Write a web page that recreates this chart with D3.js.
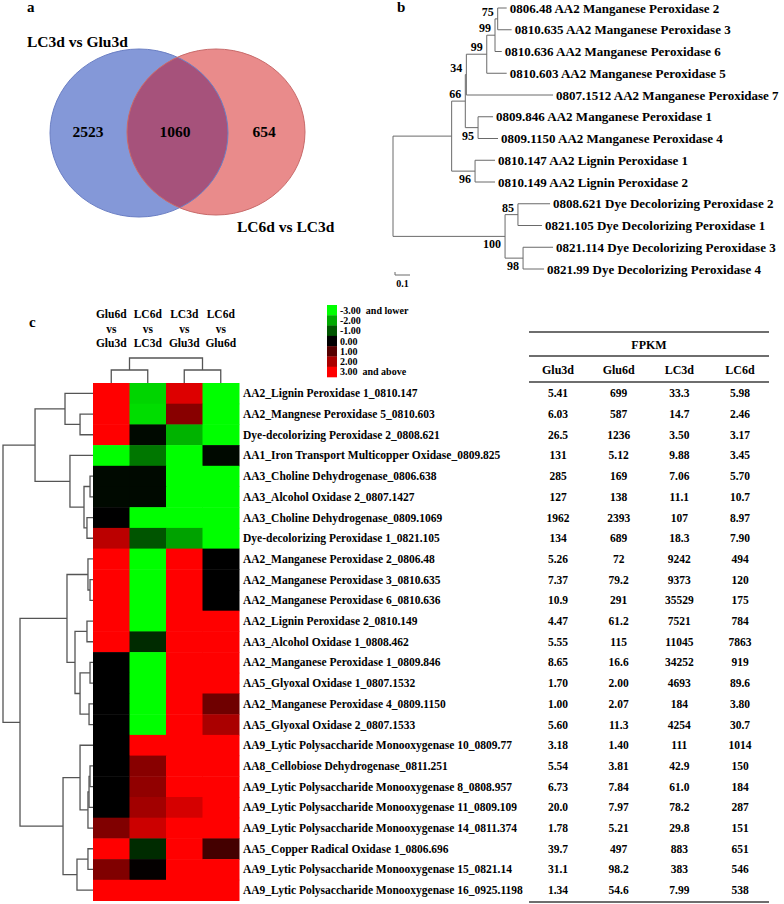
<!DOCTYPE html>
<html><head><meta charset="utf-8">
<script src="https://cdn.jsdelivr.net/npm/d3@7"></script>
<style>
body{margin:0;background:#fff}
svg{display:block}
text{font-family:"Liberation Serif","Times New Roman",serif;font-weight:bold;fill:#000}
</style>
</head><body>
<svg id="chart" width="784" height="904"></svg>
<script>
// ================= DATA =================
// Panel a: Venn
const vennSetNames = ["LC3d vs Glu3d", "LC6d vs LC3d"];
const vennCounts = [2523, 1060, 654]; // left only, shared, right only

// Panel b: phylogenetic tree
const treeLabels = [
  "0806.48 AA2 Manganese Peroxidase 2",
  "0810.635 AA2 Manganese Peroxidase 3",
  "0810.636 AA2 Manganese Peroxidase 6",
  "0810.603 AA2 Manganese Peroxidase 5",
  "0807.1512 AA2 Manganese Peroxidase 7",
  "0809.846 AA2 Manganese Peroxidase 1",
  "0809.1150 AA2 Manganese Peroxidase 4",
  "0810.147 AA2 Lignin Peroxidase 1",
  "0810.149 AA2 Lignin Peroxidase 2",
  "0808.621 Dye Decolorizing Peroxidase 2",
  "0821.105 Dye Decolorizing Peroxidase 1",
  "0821.114 Dye Decolorizing Peroxidase 3",
  "0821.99 Dye Decolorizing Peroxidase 4"
];
const treeHighlight = [1,1,1,0,0,1,1,0,0,0,0,0,0];
// leaves referenced by index, internal labels = bootstrap values, :branch length
const treeNewick = "(((((((0:0.06,1:0.093)75:0.018,2:0.045)99:0.055,3:0.133)99:0.136,4:0.578)34:0.007,(5:0.10,6:0.133)95:0.085)66:0.091,(7:0.133,8:0.133)96:0.156):0.391,((9:0.214,10:0.16)85:0.086,(11:0.20,12:0.14)98:0.12)100:0.747);";
const treeScaleBar = 0.1;

// Panel c: heatmap
const hmColumns = [["Glu6d","vs","Glu3d"],["LC6d","vs","LC3d"],["LC3d","vs","Glu3d"],["LC6d","vs","Glu6d"]];
const hmRows = [
  "AA2_Lignin Peroxidase 1_0810.147",
  "AA2_Mangnese Peroxidase 5_0810.603",
  "Dye-decolorizing Peroxidase 2_0808.621",
  "AA1_Iron Transport Multicopper Oxidase_0809.825",
  "AA3_Choline Dehydrogenase_0806.638",
  "AA3_Alcohol Oxidase 2_0807.1427",
  "AA3_Choline Dehydrogenase_0809.1069",
  "Dye-decolorizing Peroxidase 1_0821.105",
  "AA2_Manganese Peroxidase 2_0806.48",
  "AA2_Manganese Peroxidase 3_0810.635",
  "AA2_Manganese Peroxidase 6_0810.636",
  "AA2_Lignin Peroxidase 2_0810.149",
  "AA3_Alcohol Oxidase 1_0808.462",
  "AA2_Manganese Peroxidase 1_0809.846",
  "AA5_Glyoxal Oxidase 1_0807.1532",
  "AA2_Manganese Peroxidase 4_0809.1150",
  "AA5_Glyoxal Oxidase 2_0807.1533",
  "AA9_Lytic Polysaccharide Monooxygenase 10_0809.77",
  "AA8_Cellobiose Dehydrogenase_0811.251",
  "AA9_Lytic Polysaccharide Monooxygenase 8_0808.957",
  "AA9_Lytic Polysaccharide Monooxygenase 11_0809.109",
  "AA9_Lytic Polysaccharide Monooxygenase 14_0811.374",
  "AA5_Copper Radical Oxidase 1_0806.696",
  "AA9_Lytic Polysaccharide Monooxygenase 15_0821.14",
  "AA9_Lytic Polysaccharide Monooxygenase 16_0925.1198"
];
const hmValues = [
  [3,-2.5,2.6,-3],
  [3,-2.6,1.6,-3],
  [3,-0.1,-2.1,-3],
  [-3,-1.4,-3,-0.1],
  [-0.1,-0.1,-3,-3],
  [-0.1,-0.1,-3,-3],
  [0,-3,-3,-3],
  [2.2,-1.0,-1.9,-3],
  [3,-3,3,0],
  [3,-3,3,0],
  [3,-3,3,0],
  [3,-3,3,3],
  [3,-0.5,3,3],
  [0,-3,3,3],
  [0,-3,3,3],
  [0,-3,3,1.3],
  [0,-3,3,2.0],
  [0,3,3,3],
  [0,1.6,3,3],
  [0,1.7,3,3],
  [0,1.9,2.5,3],
  [1.5,2.4,3,3],
  [3,-0.5,3,0.8],
  [1.5,0.05,3,3],
  [3,3,3,3]
];
// row dendrogram: [mergeHeight, left, right]; leaves are row indices
const hmRowTree = [1.0,
  [0.644, [0.311, 0, [0.144, 1, 2]], [0.256, 3, [0.10, [0.033, 4, 5], [0.067, 6, 7]]]],
  [0.811,
    [0.289, [0.056, 8, [0.033, 9, 10]], [0.20, [0.067, 11, 12], [0.144, [0.033, 13, 14], [0.044, 15, 16]]]],
    [0.333, [0.144, 17, [0.056, [0.044, [0.033, 18, 19], 20], 21]], [0.178, [0.056, 22, 23], 24]]
  ]
];
const hmColTree = [1.0, [0.52, 0, 1], [0.52, 2, 3]];
const legendValues = [-3, -2, -1, 0, 1, 2, 3];
const legendLabels = ["-3.00  and lower", "-2.00", "-1.00", "0.00", "1.00", "2.00", "3.00  and above"];

// FPKM table
const fpkmTitle = "FPKM";
const fpkmColumns = ["Glu3d", "Glu6d", "LC3d", "LC6d"];
const fpkmValues = [
  ["5.41","699","33.3","5.98"],
  ["6.03","587","14.7","2.46"],
  ["26.5","1236","3.50","3.17"],
  ["131","5.12","9.88","3.45"],
  ["285","169","7.06","5.70"],
  ["127","138","11.1","10.7"],
  ["1962","2393","107","8.97"],
  ["134","689","18.3","7.90"],
  ["5.26","72","9242","494"],
  ["7.37","79.2","9373","120"],
  ["10.9","291","35529","175"],
  ["4.47","61.2","7521","784"],
  ["5.55","115","11045","7863"],
  ["8.65","16.6","34252","919"],
  ["1.70","2.00","4693","89.6"],
  ["1.00","2.07","184","3.80"],
  ["5.60","11.3","4254","30.7"],
  ["3.18","1.40","111","1014"],
  ["5.54","3.81","42.9","150"],
  ["6.73","7.84","61.0","184"],
  ["20.0","7.97","78.2","287"],
  ["1.78","5.21","29.8","151"],
  ["39.7","497","883","651"],
  ["31.1","98.2","383","546"],
  ["1.34","54.6","7.99","538"]
];

// ================= DRAW =================
const svg = d3.select("#chart");

// ---------- Panel a ----------
const gA = svg.append("g");
gA.append("text").attr("x", 27).attr("y", 12).attr("font-size", 15).text("a");
const vennL = {cx: 139, cy: 133, rx: 89, ry: 84};
const vennR = {cx: 216, cy: 132, rx: 89, ry: 83};
const defs = svg.append("defs");
defs.append("clipPath").attr("id", "clipL").append("ellipse")
  .attr("cx", vennL.cx).attr("cy", vennL.cy).attr("rx", vennL.rx).attr("ry", vennL.ry);
gA.append("ellipse").attr("cx", vennL.cx).attr("cy", vennL.cy).attr("rx", vennL.rx).attr("ry", vennL.ry)
  .attr("fill", "#8498d8");
gA.append("ellipse").attr("cx", vennR.cx).attr("cy", vennR.cy).attr("rx", vennR.rx).attr("ry", vennR.ry)
  .attr("fill", "#e98b8b");
gA.append("ellipse").attr("cx", vennR.cx).attr("cy", vennR.cy).attr("rx", vennR.rx).attr("ry", vennR.ry)
  .attr("clip-path", "url(#clipL)").attr("fill", "#a6527b");
gA.append("ellipse").attr("cx", vennL.cx).attr("cy", vennL.cy).attr("rx", vennL.rx).attr("ry", vennL.ry)
  .attr("fill", "none").attr("stroke", "#6b7fc4").attr("stroke-width", 1);
gA.append("ellipse").attr("cx", vennR.cx).attr("cy", vennR.cy).attr("rx", vennR.rx).attr("ry", vennR.ry)
  .attr("fill", "none").attr("stroke", "#c86a6a").attr("stroke-width", 1);
gA.append("text").attr("x", 27).attr("y", 42).attr("dy", "0.35em").attr("font-size", 15.5).text(vennSetNames[0]);
gA.append("text").attr("x", 237).attr("y", 227).attr("dy", "0.35em").attr("font-size", 15.5).text(vennSetNames[1]);
const vennNumX = [88, 175, 264];
gA.selectAll("text.vn").data(vennCounts).join("text").attr("class", "vn")
  .attr("x", (d, i) => vennNumX[i]).attr("y", 132).attr("dy", "0.35em")
  .attr("text-anchor", "middle").attr("font-size", 15.5).text(d => d);

// ---------- Panel b ----------
function parseNewick(s) {
  let i = 0;
  function node() {
    const n = {children: []};
    if (s[i] === "(") {
      i++;
      n.children.push(node());
      while (s[i] === ",") { i++; n.children.push(node()); }
      i++;
    }
    let name = "";
    while (i < s.length && !",):;".includes(s[i])) name += s[i++];
    n.name = name;
    n.length = 0;
    if (s[i] === ":") {
      i++;
      let l = "";
      while (i < s.length && !",);".includes(s[i])) l += s[i++];
      n.length = +l;
    }
    if (!n.children.length) delete n.children;
    return n;
  }
  return node();
}
const gB = svg.append("g");
gB.append("text").attr("x", 397).attr("y", 12).attr("font-size", 15).text("b");
const tRoot = d3.hierarchy(parseNewick(treeNewick));
tRoot.eachBefore(d => d.dist = (d.parent ? d.parent.dist : 0) + (d.parent ? d.data.length : 0));
const tx = d3.scaleLinear().domain([0, 0.1]).range([393, 408]);
const ty = d3.scaleLinear().domain([0, treeLabels.length - 1]).range([8, 269]);
tRoot.eachAfter(d => {
  d.px = tx(d.dist);
  if (d.children) d.py = (d.children[0].py + d.children[d.children.length - 1].py) / 2;
  else { d.idx = +d.data.name; d.py = ty(d.idx); }
});
const treeColor = "#6a6a6a";
// horizontal branches
gB.selectAll("line.hb").data(tRoot.descendants().filter(d => d.parent)).join("line")
  .attr("x1", d => d.parent.px).attr("x2", d => d.px).attr("y1", d => d.py).attr("y2", d => d.py)
  .attr("stroke", treeColor).attr("stroke-width", 1);
// vertical connectors
gB.selectAll("line.vb").data(tRoot.descendants().filter(d => d.children)).join("line")
  .attr("x1", d => d.px).attr("x2", d => d.px)
  .attr("y1", d => d.children[0].py).attr("y2", d => d.children[d.children.length - 1].py)
  .attr("stroke", treeColor).attr("stroke-width", 1);
// leaf labels
gB.selectAll("text.leaf").data(tRoot.leaves()).join("text")
  .attr("x", d => d.px + 3).attr("y", d => d.py).attr("dy", "0.35em")
  .attr("font-size", 13).attr("fill", d => treeHighlight[d.idx] ? "#3c9a4a" : "#000")
  .text(d => treeLabels[d.idx]);
// bootstrap labels
gB.selectAll("text.bs").data(tRoot.descendants().filter(d => d.children && d.data.name)).join("text")
  .attr("text-anchor", "end").attr("font-size", 12)
  .attr("x", d => d.px - 4)
  .attr("y", d => (d.parent && d.parent.children[0] !== d) ? d.py + 12 : d.py - 3)
  .text(d => d.data.name);
// scale bar
gB.append("line").attr("x1", tx(0) + 2).attr("x2", tx(treeScaleBar) + 2).attr("y1", 275).attr("y2", 275)
  .attr("stroke", treeColor);
gB.append("line").attr("x1", tx(0) + 2).attr("x2", tx(0) + 2).attr("y1", 272).attr("y2", 275).attr("stroke", treeColor);
gB.append("text").attr("x", (tx(0) + tx(treeScaleBar)) / 2 + 2).attr("y", 283).attr("dy", "0.35em")
  .attr("text-anchor", "middle").attr("font-size", 10).text(treeScaleBar.toFixed(1));

// ---------- Panel c ----------
const gC = svg.append("g");
gC.append("text").attr("x", 29).attr("y", 322).attr("dy", "0.35em").attr("font-size", 15).text("c");
const hx = d3.scaleBand().domain(d3.range(hmColumns.length)).range([93, 239]);
const hy = d3.scaleBand().domain(d3.range(hmRows.length)).range([383, 900.5]);
const color = d3.scaleLinear().domain([-3, 0, 3]).range(["#00ff00", "#000000", "#ff0000"]).clamp(true);

// cells
hmValues.forEach((row, r) => {
  gC.selectAll(null).data(row).join("rect")
    .attr("x", (d, c) => hx(c)).attr("y", hy(r))
    .attr("width", hx.bandwidth() + 0.5).attr("height", hy.bandwidth() + 0.5)
    .attr("fill", d => color(d));
});
// column headers
hmColumns.forEach((lines, c) => {
  gC.selectAll(null).data(lines).join("text")
    .attr("x", hx(c) + hx.bandwidth() / 2).attr("y", (d, i) => 314 + i * 14.5).attr("dy", "0.35em")
    .attr("text-anchor", "middle").attr("font-size", 11.5).text(d => d);
});
// row labels
gC.selectAll("text.rl").data(hmRows).join("text")
  .attr("x", 243).attr("y", (d, i) => hy(i) + hy.bandwidth() / 2).attr("dy", "0.35em")
  .attr("font-size", 11.5).text(d => d);

// dendrograms
const dendroColor = "#555";
function drawDendro(tree, leafPos, hScale, horizontal) {
  const root = d3.hierarchy(tree, d => Array.isArray(d) ? d.slice(1) : null);
  root.eachAfter(d => {
    d.h = Array.isArray(d.data) ? d.data[0] : 0;
    d.l = d.children ? (d.children[0].l + d.children[1].l) / 2 : leafPos(d.data);
  });
  const nodes = root.descendants().filter(d => d.children);
  nodes.forEach(n => {
    const a = n.children[0], b = n.children[1];
    const hv = hScale(n.h);
    let pts = [[hScale(a.h), a.l], [hv, a.l], [hv, b.l], [hScale(b.h), b.l]];
    if (!horizontal) pts = pts.map(p => [p[1], p[0]]);
    gC.append("path").attr("d", d3.line()(pts)).attr("fill", "none")
      .attr("stroke", dendroColor).attr("stroke-width", 1.3);
  });
}
drawDendro(hmRowTree, i => hy(i) + hy.bandwidth() / 2, d3.scaleLinear().domain([0, 1]).range([93, 3]), true);
drawDendro(hmColTree, i => hx(i) + hx.bandwidth() / 2, d3.scaleLinear().domain([0, 1]).range([383, 358]), false);

// legend
const ly = d3.scaleBand().domain(d3.range(legendValues.length)).range([305, 377]);
gC.selectAll("rect.lg").data(legendValues).join("rect")
  .attr("x", 327).attr("y", (d, i) => ly(i)).attr("width", 10).attr("height", ly.bandwidth() + 0.3)
  .attr("fill", d => color(d));
gC.selectAll("text.lg").data(legendLabels).join("text")
  .attr("x", 340).attr("y", (d, i) => ly(i) + ly.bandwidth() / 2).attr("dy", "0.35em")
  .attr("font-size", 10).attr("xml:space", "preserve").style("white-space", "pre").text(d => d);

// FPKM table
const tcx = d3.scalePoint().domain(fpkmColumns).range([558, 740]);
const lineColor = "#6e6e6e";
[332, 356, 382, 902].forEach(y => {
  gC.append("line").attr("x1", 529).attr("x2", 769).attr("y1", y).attr("y2", y)
    .attr("stroke", lineColor).attr("stroke-width", 2);
});
gC.append("text").attr("x", 649).attr("y", 345).attr("dy", "0.35em").attr("text-anchor", "middle")
  .attr("font-size", 12).text(fpkmTitle);
gC.selectAll("text.th").data(fpkmColumns).join("text")
  .attr("x", d => tcx(d)).attr("y", 370).attr("dy", "0.35em").attr("text-anchor", "middle")
  .attr("font-size", 12).text(d => d);
fpkmValues.forEach((row, r) => {
  gC.selectAll(null).data(row).join("text")
    .attr("x", (d, c) => tcx(fpkmColumns[c])).attr("y", hy(r) + hy.bandwidth() / 2).attr("dy", "0.35em")
    .attr("text-anchor", "middle").attr("font-size", 11.5).text(d => d);
});
</script>
</body></html>
